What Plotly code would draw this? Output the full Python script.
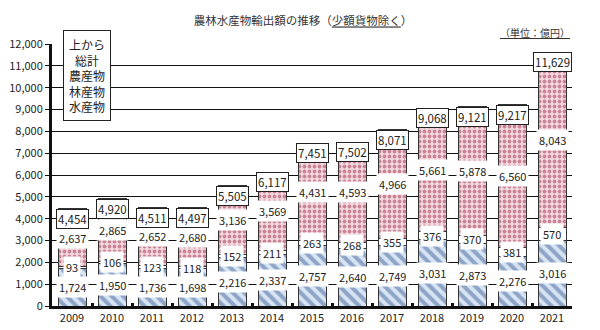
import plotly.graph_objects as go

years = ["2009", "2010", "2011", "2012", "2013", "2014", "2015", "2016", "2017", "2018", "2019", "2020", "2021"]
fishery = [1724, 1950, 1736, 1698, 2216, 2337, 2757, 2640, 2749, 3031, 2873, 2276, 3016]
forest = [93, 106, 123, 118, 152, 211, 263, 268, 355, 376, 370, 381, 570]
agri = [2637, 2865, 2652, 2680, 3136, 3569, 4431, 4593, 4966, 5661, 5878, 6560, 8043]
total = [4454, 4920, 4511, 4497, 5505, 6117, 7451, 7502, 8071, 9068, 9121, 9217, 11629]
yticks = [0, 1000, 2000, 3000, 4000, 5000, 6000, 7000, 8000, 9000, 10000, 11000, 12000]

FONT = "Noto Sans CJK JP"
fig = go.Figure()
fig.add_trace(go.Bar(
    x=years, y=fishery, name="水産物",
    marker=dict(color="#d6e4f3", line=dict(color="#333333", width=1),
                pattern=dict(shape="\\", fgcolor="#46639a", bgcolor="#d6e4f3", size=8, solidity=0.5)),
))
fig.add_trace(go.Bar(
    x=years, y=forest, name="林産物",
    marker=dict(color="#ffffff", line=dict(color="#333333", width=1)),
))
fig.add_trace(go.Bar(
    x=years, y=agri, name="農産物",
    marker=dict(color="#f3d9de", line=dict(color="#333333", width=1),
                pattern=dict(shape=".", fgcolor="#9e2f4c", bgcolor="#f3d9de", size=5, solidity=0.45)),
))

ann = []
for i, yr in enumerate(years):
    base = 0
    for seg in (fishery, forest, agri):
        v = seg[i]
        ann.append(dict(x=i, y=base + v / 2, xref="x", yref="y", text=f"{v:,}",
                        showarrow=False, bgcolor="white", borderpad=2,
                        font=dict(family=FONT, size=11, color="#222")))
        base += v
    ann.append(dict(x=i, y=total[i], xref="x", yref="y", text=f"{total[i]:,}",
                    showarrow=False, bgcolor="white", bordercolor="#222", borderwidth=1,
                    borderpad=1, yshift=-10,
                    font=dict(family=FONT, size=11.5, color="#222")))

ann.append(dict(x=0.067, y=10560, xref="paper", yref="y", xanchor="center", yanchor="middle",
                text="上から<br>総計<br>農産物<br>林産物<br>水産物",
                showarrow=False, bgcolor="white", bordercolor="#222", borderwidth=1,
                borderpad=5, align="center",
                font=dict(family=FONT, size=12, color="#222")))
ann.append(dict(x=1.0, y=1.0, xref="paper", yref="paper", xanchor="right", yanchor="bottom",
                yshift=2,
                text="<span style='text-decoration:underline'>（単位：億円）</span>",
                showarrow=False, font=dict(family=FONT, size=10, color="#333")))

fig.update_layout(
    width=600, height=330, autosize=False,
    margin=dict(l=52, r=28, t=44, b=24),
    barmode="stack", bargap=0.3,
    showlegend=False,
    paper_bgcolor="white", plot_bgcolor="white",
    title=dict(text="農林水産物輸出額の推移（<span style='text-decoration:underline'>少額貨物除く</span>）",
               x=0.505, xanchor="center", y=0.935, yanchor="middle",
               font=dict(family=FONT, size=11.5, color="#333")),
    annotations=ann,
    font=dict(family=FONT, size=11, color="#222"),
)
fig.update_yaxes(range=[0, 12000], tickvals=yticks, ticktext=[f"{v:,}" for v in yticks],
                 showgrid=True, gridcolor="#111", gridwidth=1, automargin=False,
                 showline=True, linecolor="#111", linewidth=3,
                 ticks="outside", ticklen=4, tickcolor="#111", zeroline=False,
                 tickfont=dict(family=FONT, size=11, color="#222"))
fig.update_xaxes(type="category", range=[-0.5, len(years) - 0.5], automargin=False,
                 showline=True, linecolor="#111", linewidth=3,
                 ticks="inside", tickson="boundaries", ticklen=3, tickwidth=3, tickcolor="#111",
                 tickfont=dict(family=FONT, size=11, color="#222"))

fig.write_html("out.html")
